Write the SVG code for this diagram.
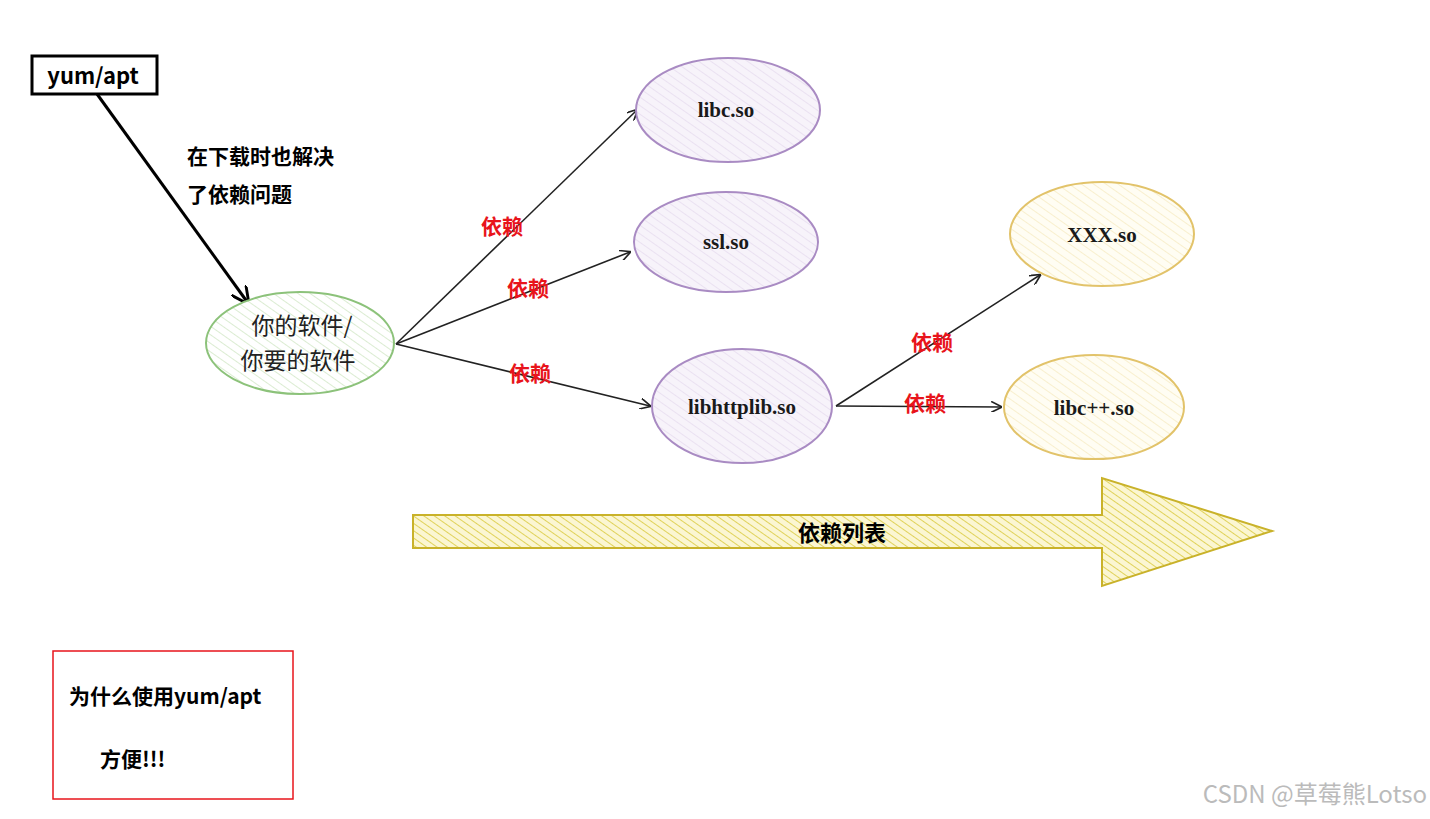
<svg xmlns="http://www.w3.org/2000/svg" width="1430" height="819" viewBox="0 0 1430 819">
<style>
.cjk{font-family:"Noto Sans CJK SC","Liberation Sans",sans-serif}
.b{font-weight:bold}
.red{fill:#e8141b;font-weight:bold;font-size:21px}
.so{font-family:"Liberation Serif",serif;font-weight:bold;font-size:21px;fill:#1a1a1a}
.ln{stroke:#222;stroke-width:1.6;fill:none}
</style>
<defs>
<pattern id="hg" width="7" height="7" patternUnits="userSpaceOnUse" patternTransform="rotate(-55)"><rect width="7" height="7" fill="#fff"/><line x1="0" y1="0" x2="0" y2="7" stroke="#cfe6c4" stroke-width="1.5"/></pattern>
<pattern id="hp" width="7" height="7" patternUnits="userSpaceOnUse" patternTransform="rotate(-55)"><rect width="7" height="7" fill="#f7f3fa"/><line x1="0" y1="0" x2="0" y2="7" stroke="#e6dcef" stroke-width="1.5"/></pattern>
<pattern id="hy" width="7" height="7" patternUnits="userSpaceOnUse" patternTransform="rotate(-55)"><rect width="7" height="7" fill="#fffdf3"/><line x1="0" y1="0" x2="0" y2="7" stroke="#f6ebc2" stroke-width="1.5"/></pattern>
<pattern id="ha" width="6" height="6" patternUnits="userSpaceOnUse" patternTransform="rotate(-55)"><rect width="6" height="6" fill="#fbf6d2"/><line x1="0" y1="0" x2="0" y2="6" stroke="#e0d25a" stroke-width="2"/></pattern>
<marker id="ar" viewBox="0 0 10 10" refX="9" refY="5" markerWidth="11" markerHeight="11" orient="auto" markerUnits="userSpaceOnUse"><path d="M0,0 L10,5 L0,10" fill="none" stroke="#222" stroke-width="1.5"/></marker>
<marker id="arb" viewBox="0 0 10 10" refX="9" refY="5" markerWidth="18" markerHeight="18" orient="auto" markerUnits="userSpaceOnUse"><path d="M0,0 L10,5 L0,10" fill="none" stroke="#000" stroke-width="1.6"/></marker>
</defs>
<rect width="1430" height="819" fill="#fff"/>
<g id="connectors">
<line x1="97" y1="94" x2="248" y2="303" stroke="#000" stroke-width="3" marker-end="url(#arb)"/>
<line class="ln" x1="396" y1="344" x2="637" y2="110" marker-end="url(#ar)"/>
<line class="ln" x1="396" y1="344" x2="630" y2="252" marker-end="url(#ar)"/>
<line class="ln" x1="396" y1="344" x2="650" y2="406" marker-end="url(#ar)"/>
<line class="ln" x1="836" y1="406" x2="1040" y2="275" marker-end="url(#ar)"/>
<line class="ln" x1="836" y1="406" x2="1001" y2="407" marker-end="url(#ar)"/>
<text class="cjk red" x="502" y="234" text-anchor="middle">依赖</text>
<text class="cjk red" x="528" y="296" text-anchor="middle">依赖</text>
<text class="cjk red" x="530" y="381" text-anchor="middle">依赖</text>
<text class="cjk red" x="932" y="350" text-anchor="middle">依赖</text>
<text class="cjk red" x="925" y="411" text-anchor="middle">依赖</text>
</g>
<g id="yumapt"><rect x="32" y="56" width="125" height="38" fill="#fff" stroke="#000" stroke-width="3"/><text class="cjk b" x="93" y="84" font-size="22" text-anchor="middle">yum/apt</text></g>
<g id="note"><text class="cjk b" font-size="21" x="187" y="164">在下载时也解决</text><text class="cjk b" font-size="21" x="187" y="202">了依赖问题</text></g>
<g id="soft"><ellipse cx="300" cy="343" rx="94" ry="51" fill="url(#hg)" stroke="#8cc27a" stroke-width="2"/><text class="cjk" font-size="23" fill="#222" x="302" y="334" text-anchor="middle">你的软件/</text><text class="cjk" font-size="23" fill="#222" x="298" y="369" text-anchor="middle">你要的软件</text></g>
<g id="libc"><ellipse cx="728" cy="110" rx="92" ry="52" fill="url(#hp)" stroke="#a98bc3" stroke-width="2"/><text class="so" x="726" y="117" text-anchor="middle">libc.so</text></g>
<g id="ssl"><ellipse cx="726" cy="242" rx="92" ry="50" fill="url(#hp)" stroke="#a98bc3" stroke-width="2"/><text class="so" x="726" y="249" text-anchor="middle">ssl.so</text></g>
<g id="libhttplib"><ellipse cx="742" cy="406" rx="90" ry="57" fill="url(#hp)" stroke="#a98bc3" stroke-width="2"/><text class="so" x="742" y="414" text-anchor="middle">libhttplib.so</text></g>
<g id="xxx"><ellipse cx="1102" cy="234" rx="92" ry="52" fill="url(#hy)" stroke="#e2c36a" stroke-width="2"/><text class="so" x="1102" y="242" text-anchor="middle">XXX.so</text></g>
<g id="libcpp"><ellipse cx="1094" cy="407" rx="90" ry="52" fill="url(#hy)" stroke="#e2c36a" stroke-width="2"/><text class="so" x="1094" y="415" text-anchor="middle">libc++.so</text></g>
<g id="deplist"><path d="M413,515 L1102,515 L1102,478 L1272,531 L1102,586 L1102,548 L413,548 Z" fill="url(#ha)" stroke="#c9b22a" stroke-width="2"/><text class="cjk b" font-size="22" x="842" y="541" text-anchor="middle">依赖列表</text></g>
<g id="why"><rect x="53" y="651" width="240" height="148" fill="#fff" stroke="#e8141b" stroke-width="1.5"/><text class="cjk b" font-size="21" x="69" y="704">为什么使用yum/apt</text><text class="cjk b" font-size="21" x="100" y="767">方便!!!</text></g>
<text x="1427" y="803" text-anchor="end" font-size="24" fill="#bbb" class="cjk">CSDN @草莓熊Lotso</text>
</svg>
